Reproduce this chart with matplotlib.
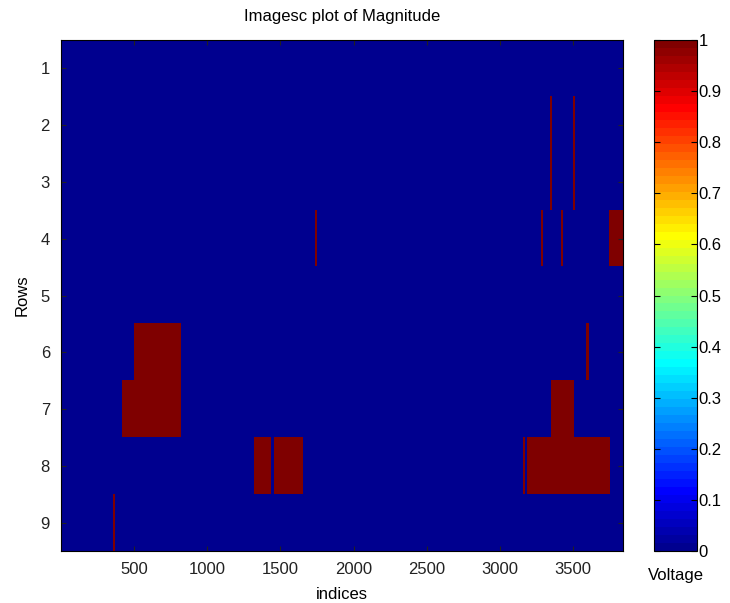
import numpy as np
import matplotlib.pyplot as plt
from matplotlib.colors import ListedColormap

n_rows = 9
n_cols = 3840

# active spans per row: (row, first index, last index)
span_rows = [2, 2, 3, 3, 4, 4, 4, 4, 6, 6, 7, 7, 8, 8, 8, 8, 9]
span_start = [3340, 3500, 3340, 3500, 1735, 3278, 3415, 3748, 498, 3590, 416, 3351, 1317, 1454, 3155, 3188, 355]
span_end = [3355, 3515, 3355, 3515, 1750, 3293, 3430, 3840, 819, 3605, 819, 3502, 1433, 1652, 3170, 3748, 370]

x_ticks = [500, 1000, 1500, 2000, 2500, 3000, 3500]
y_ticks = [1, 2, 3, 4, 5, 6, 7, 8, 9]
cbar_ticks = [0, 0.1, 0.2, 0.3, 0.4, 0.5, 0.6, 0.7, 0.8, 0.9, 1]
cbar_labels = ['0', '0.1', '0.2', '0.3', '0.4', '0.5', '0.6', '0.7', '0.8', '0.9', '1']


def matlab_jet(m=64):
    # same construction as MATLAB's jet(m)
    n = int(np.ceil(m / 4))
    u = np.concatenate([np.arange(1, n + 1) / n, np.ones(n - 1), np.arange(n, 0, -1) / n])
    g = int(np.ceil(n / 2)) - (m % 4 == 1) + np.arange(1, len(u) + 1)
    r = g + n
    b = g - n
    cols = np.zeros((m, 3))
    ok = r <= m
    cols[r[ok] - 1, 0] = u[ok]
    ok = g <= m
    cols[g[ok] - 1, 1] = u[ok]
    ok = b >= 1
    cols[b[ok] - 1, 2] = u[ok]
    return ListedColormap(cols)


mag = np.zeros((n_rows, n_cols))
for r, a, b in zip(span_rows, span_start, span_end):
    mag[r - 1, a - 1:b] = 1

plt.rcParams['font.family'] = ['Liberation Sans', 'DejaVu Sans']

fig = plt.figure(figsize=(7.3, 6.03), dpi=100)
ax = fig.add_axes([0.0836, 0.0862, 0.7698, 0.8475])
cax = fig.add_axes([0.8959, 0.0862, 0.0589, 0.8475])

im = ax.imshow(mag, cmap=matlab_jet(64), vmin=0, vmax=1, aspect='auto',
               interpolation='nearest',
               extent=[0.5, n_cols + 0.5, n_rows + 0.5, 0.5])

ax.set_xticks(x_ticks)
ax.set_yticks(y_ticks)
ax.tick_params(direction='in', top=True, right=True, labelsize=12, colors='#222222', pad=8)
ax.set_xlabel('indices', fontsize=12, labelpad=7)
ax.set_ylabel('Rows', fontsize=12, labelpad=8)
ax.set_title('Imagesc plot of Magnitude', fontsize=12, pad=14)

cb = fig.colorbar(im, cax=cax, ticks=cbar_ticks)
cb.ax.set_yticklabels(cbar_labels)
cax.tick_params(direction='in', left=True, right=True, labelsize=12, length=4, pad=1)
cax.set_xlabel('Voltage', fontsize=12, labelpad=12)
cb.outline.set_linewidth(0.8)

fig.savefig('out.png', dpi=100)
